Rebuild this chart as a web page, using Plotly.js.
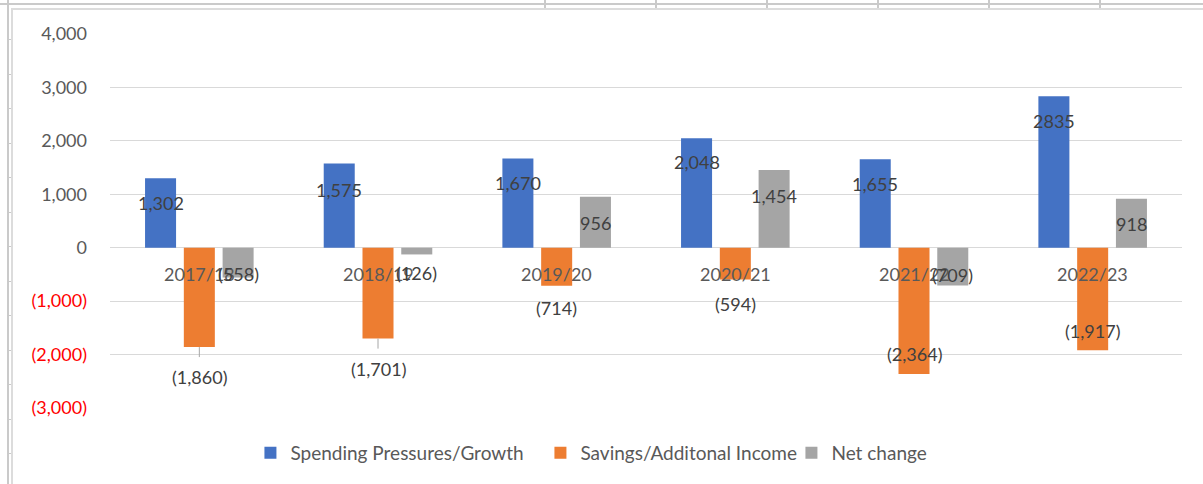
<!DOCTYPE html>
<html><head><meta charset="utf-8">
<script src="https://cdn.plot.ly/plotly-3.0.1.min.js"></script>
<style>
html,body{margin:0;padding:0;background:#fff;width:1203px;height:484px;overflow:hidden;position:relative}
#chart{position:absolute;left:0;top:0;width:1203px;height:484px}
.ln{position:absolute;background:#cacaca}
.fr{position:absolute;background:#dcdcdc}
</style></head><body>
<div id="deco"></div>
<div id="chart"></div>
<script>
// ---- data ----
const categories = ['2017/18','2018/19','2019/20','2020/21','2021/22','2022/23'];
const seriesNames = ['Spending Pressures/Growth','Savings/Additonal Income','Net change'];
const spending = [1302,1575,1670,2048,1655,2835];
const savings = [-1860,-1701,-714,-594,-2364,-1917];
const netChange = [-558,-126,956,1454,-709,918];
const spendingLabelText = ['1,302','1,575','1,670','2,048','1,655','2835'];
const yTickVals = [-3000,-2000,-1000,0,1000,2000,3000,4000];

// ---- style ----
const FONT = 'Lato, "Liberation Sans", sans-serif';
const colors = ['#4472C4','#ED7D31','#A5A5A5'];
const legendWidths = [245, 206, 130];
const bargap = 0.349, bargroupgap = 0.2;
// label vertical offsets in px from bar end (positive = downwards)
const labelOffsets = [
  [25,26,25,24,25,25],
  [30,30,22,25,-20,-19],
  [-4,19,26,26,-11,25]
];
const savingsLeader = [true,true,false,false,false,false];

function fmt(v){
  const s = Math.abs(v).toLocaleString('en-US');
  return v < 0 ? '(' + s + ')' : s;
}

// decorations (spreadsheet grid behind the chart object)
(function(){
  const d = document.getElementById('deco');
  function add(cls,l,t,w,h){const e=document.createElement('div');e.className=cls;
    e.style.left=l+'px';e.style.top=t+'px';e.style.width=w+'px';e.style.height=h+'px';d.appendChild(e);}
  add('ln',0,3,1203,2);
  add('ln',7,0,2,484);
  [544,655,766,877,988,1099].forEach(x=>add('ln',x,0,2,8));
  for(let y=39;y<484;y+=34.5) add('ln',7,Math.round(y),4,1);
  add('fr',11,8,1192,2);
  add('fr',11,8,2,476);
})();

const seriesValues = [spending, savings, netChange];
const traces = seriesValues.map((vals,s)=>({
  type:'bar', name: seriesNames[s], x: categories, y: vals,
  marker:{color: colors[s]}, hoverinfo:'skip', legendwidth: legendWidths[s]
}));

const slot = (1 - bargap) / 3;
const annotations = [];
categories.forEach((c,i)=>{
  annotations.push({x:i, y:0, xref:'x', yref:'y', text:c, showarrow:false,
    yanchor:'middle', yshift:-26, font:{family:FONT, size:18, color:'#595959'}});
});
seriesValues.forEach((vals,s)=>{
  vals.forEach((v,i)=>{
    const txt = s === 0 ? spendingLabelText[i] : fmt(v);
    annotations.push({x: i + (s-1)*slot, y: v, xref:'x', yref:'y', text: txt,
      showarrow:false, yanchor:'middle', yshift: -labelOffsets[s][i],
      font:{family:FONT, size:18, color:'#404040'}});
  });
});

const shapes = [];
savings.forEach((v,i)=>{
  if(savingsLeader[i]) shapes.push({type:'line', xref:'x', yref:'y', x0:i, x1:i,
    ysizemode:'pixel', yanchor:v, y0:0, y1:-10, line:{color:'#a6a6a6', width:1}});
});

const layout = {
  width:1203, height:484,
  margin:{l:110, r:21, t:34, b:76},
  paper_bgcolor:'rgba(0,0,0,0)', plot_bgcolor:'rgba(0,0,0,0)',
  barmode:'group', bargap: bargap, bargroupgap: bargroupgap,
  font:{family:FONT, size:18, color:'#595959'},
  xaxis:{type:'category', showticklabels:false, ticks:'', showgrid:false, zeroline:false, showline:false, fixedrange:true},
  yaxis:{range:[-3000,4000], tickvals: yTickVals,
    ticktext: yTickVals.map(v => v < 0 ? '<span style="color:#FF0000">'+fmt(v)+'</span>' : fmt(v)),
    showgrid:true, gridcolor:'#d9d9d9', gridwidth:1, zeroline:true, zerolinecolor:'#d9d9d9', zerolinewidth:1,
    ticks:'', ticklabelstandoff:22, showline:false,
    tickfont:{family:FONT, size:18, color:'#595959'}, fixedrange:true},
  showlegend:true,
  legend:{orientation:'h', x:0.131, xanchor:'left', y:-0.12, yanchor:'middle',
    font:{family:FONT, size:19, color:'#595959'}, itemwidth:30, traceorder:'normal', bgcolor:'rgba(0,0,0,0)'},
  annotations: annotations,
  shapes: shapes
};

Plotly.newPlot('chart', traces, layout, {displayModeBar:false, staticPlot:true});
</script>
</body></html>
